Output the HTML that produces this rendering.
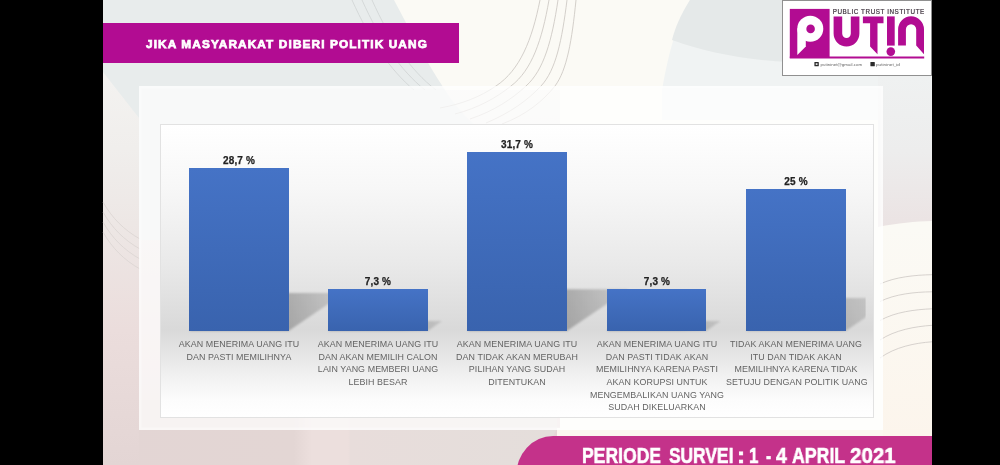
<!DOCTYPE html>
<html><head><meta charset="utf-8">
<style>
html,body{margin:0;padding:0;}
body{width:1000px;height:465px;position:relative;overflow:hidden;background:#000;font-family:"Liberation Sans",sans-serif;}
#bg{position:absolute;left:0;top:0;width:1000px;height:465px;}
.abs{position:absolute;}
#title{left:103px;top:23px;width:356px;height:40px;background:#b20c92;}
#title span{-webkit-text-stroke:0.75px #fff;position:absolute;left:43px;top:14px;font-weight:bold;font-size:11.8px;color:#fff;white-space:nowrap;letter-spacing:1.12px;line-height:14px;}
#outer{left:139px;top:85.6px;width:744px;height:344px;background:rgba(255,255,255,0.7);box-shadow:inset 0 0 0 2.5px rgba(255,255,255,0.35);}
#inner{left:160px;top:124px;width:714px;height:294px;box-sizing:border-box;border:1px solid #e2e2e2;background:linear-gradient(to bottom,#ffffff 0%,#f7f7f7 22%,#e9e9e9 48%,#d9d9d9 70%,#e3e3e3 77%,#f1f1f1 86%,#fcfcfc 94%,#ffffff 100%);}
.bar{position:absolute;width:99.5px;background:linear-gradient(to bottom,#4573c6,#3963ae);}
.val,.cat,#title span{will-change:transform;}
.val{-webkit-text-stroke:0.25px #222;position:absolute;font-weight:bold;font-size:10px;letter-spacing:0.15px;color:#222;white-space:nowrap;text-align:center;width:100px;line-height:12px;}
.cat{position:absolute;font-size:8.9px;letter-spacing:0.08px;color:#636363;text-align:center;width:140px;line-height:12.65px;white-space:nowrap;}
#footer{left:516px;top:436px;width:416px;height:40px;background:#c4328a;border-top-left-radius:37px 40px;}
#ftext{left:581.6px;top:443.5px;width:340px;height:24px;font-weight:bold;font-size:21.5px;color:#fff;line-height:24px;}
#ftext span{-webkit-text-stroke:0.6px #fff;position:absolute;top:0;white-space:nowrap;transform-origin:0 0;will-change:transform;}
#logo{left:782px;top:0px;width:150px;height:76px;box-sizing:border-box;border:1px solid #909090;background:#fff;}
</style></head><body>
<svg id="bg" viewBox="0 0 1000 465">
<defs>
<linearGradient id="lstrip" x1="0" y1="0" x2="0" y2="465" gradientUnits="userSpaceOnUse">
<stop offset="0.13" stop-color="#f4f3f1"/><stop offset="0.32" stop-color="#f0eeec"/><stop offset="0.48" stop-color="#ede7e5"/><stop offset="0.71" stop-color="#ebdddc"/><stop offset="1" stop-color="#e3d5d4"/>
</linearGradient>
<linearGradient id="rstrip" x1="0" y1="0" x2="0" y2="1">
<stop offset="0" stop-color="#eff1f1"/><stop offset="0.5" stop-color="#ededed"/><stop offset="1" stop-color="#ebe3e3"/>
</linearGradient>
<linearGradient id="bpink" x1="103" y1="0" x2="557" y2="0" gradientUnits="userSpaceOnUse"><stop offset="0" stop-color="#e3d5d4"/><stop offset="0.42" stop-color="#e3d6d4"/><stop offset="0.46" stop-color="#ecdfdd"/><stop offset="0.54" stop-color="#ecdfdd"/><stop offset="0.545" stop-color="#e8dddb"/><stop offset="1" stop-color="#e4dedb"/></linearGradient>
<linearGradient id="fade" x1="400" y1="0" x2="560" y2="0" gradientUnits="userSpaceOnUse"><stop offset="0" stop-color="#fbfaf5" stop-opacity="0"/><stop offset="1" stop-color="#fbfaf5" stop-opacity="1"/></linearGradient>
<linearGradient id="rlow" x1="0" y1="0" x2="0" y2="1"><stop offset="0" stop-color="#fbfaf5"/><stop offset="1" stop-color="#fcf5ec"/></linearGradient>
<filter id="bl" x="-5%" y="-5%" width="110%" height="110%"><feGaussianBlur stdDeviation="0.7"/></filter>
</defs>
<rect x="103" y="0" width="829" height="465" fill="#fbfaf5"/>
<!-- left blob -->
<rect x="103" y="60" width="37" height="405" fill="url(#lstrip)"/><rect x="139" y="90" width="421" height="375" fill="url(#lstrip)"/>
<path d="M103 0 H394 C410 30 425 60 445 90 C470 130 520 160 560 200 V240 H139 V118 L103 72 Z" fill="#e8ecec"/>
<rect x="400" y="200" width="160" height="182" fill="url(#fade)"/>
<!-- right blob light -->
<path d="M690 0 C676 25 668 55 662 90 V120 H932 V0 Z" fill="#f0f3f3"/>
<!-- right blob dark -->
<path d="M690 0 C680 16 675 28 672 40 C705 52 745 60 790 62 H932 V0 Z" fill="#e5e9e9"/>
<!-- right strip -->
<path d="M878 76 H932 V221 C915 221.5 898 223 878 227 Z" fill="url(#rstrip)"/>
<!-- bottom pink area -->
<path d="M139 400 H557 V429 C550 440 547 452 546 465 H139 Z" fill="url(#bpink)"/>
<path d="M557 428 H932 V437 H557 Z" fill="#fcf7ef"/><rect x="883" y="228" width="49" height="209" fill="url(#rlow)"/>
<!-- thin lines -->
<g fill="none" stroke="#c9c4bf" stroke-width="0.8" filter="url(#bl)">
<path d="M540 0 C532 40 520 70 496 86 C480 97 462 104 440 108"/>
<path d="M549 0 C542 40 532 70 511 86 C496 98 478 108 455 114"/>
<path d="M558 0 C552 40 544 70 526 86 C512 99 494 111 470 119"/>
<path d="M567 0 C562 40 556 70 541 86 C528 100 510 113 486 123"/>
<path d="M576 0 C572 40 567 70 555 86 C543 101 526 115 502 124"/>
</g>
<g fill="none" stroke="#cfd3d3" stroke-width="0.8" filter="url(#bl)">
<path d="M362 0 C380 40 400 70 425 90"/>
<path d="M372 0 C390 40 410 70 436 90"/>
<path d="M352 0 C370 40 390 70 414 90"/>
</g>
<g fill="none" stroke="#cdc8c4" stroke-width="0.8" filter="url(#bl)">
<path d="M880 284 C895 277 915 275 932 274.7"/>
<path d="M880 301.5 C895 294 915 292 932 291.8"/>
<path d="M880 320.5 C895 312 915 309.5 932 308.8"/>
<path d="M880 340 C895 330 915 326.5 932 325.3"/>
<path d="M880 358 C895 347 915 343 932 341.8"/>
</g>
<g fill="none" stroke="#dcd6d4" stroke-width="0.9" filter="url(#bl)">
<path d="M103 212 C112 228 124 240 140 249"/>
<path d="M103 222 C112 238 124 250 140 259"/>
<path d="M103 232 C112 248 124 260 140 269"/>
<path d="M103 202 C112 218 124 230 140 239"/>
</g>
</svg>
<div id="title" class="abs"><span>JIKA MASYARAKAT DIBERI POLITIK UANG</span></div>
<div id="outer" class="abs"></div>
<div id="inner" class="abs"></div>
<svg class="abs" style="left:0;top:0" width="1000" height="465" viewBox="0 0 1000 465">
<defs><clipPath id="plot"><rect x="161" y="125" width="704.6" height="215"/></clipPath>
<filter id="sb" x="-10%" y="-20%" width="120%" height="140%"><feGaussianBlur stdDeviation="1.3"/></filter>
<linearGradient id="sg" x1="0" y1="0" x2="1" y2="0"><stop offset="0.6" stop-color="#000" stop-opacity="0.25"/><stop offset="0.95" stop-color="#000" stop-opacity="0.12"/></linearGradient>
</defs>
<g clip-path="url(#plot)"><g filter="url(#sb)" fill="url(#sg)">
<path d="M189 331 H288.5 L344.5 293 H245 Z"/>
<path d="M328.2 331 H427.7 L442 321 H342.5 Z"/>
<path d="M467.3 331 H566.8 L628.6 289.3 H529 Z"/>
<path d="M606.7 331 H706.2 L720.5 321 H621 Z"/>
<path d="M746 331 H845.5 L894.4 298 H795 Z" fill-opacity="0.75"/>
</g></g></svg>
<div class="bar" style="left:189px;top:168px;height:163px"></div>
<div class="bar" style="left:328.2px;top:289.3px;height:41.7px"></div>
<div class="bar" style="left:467.3px;top:151.7px;height:179.3px"></div>
<div class="bar" style="left:606.7px;top:289.3px;height:41.7px"></div>
<div class="bar" style="left:746px;top:189.3px;height:141.7px"></div>
<div class="val" style="left:188.7px;top:155.4px">28,7 %</div>
<div class="val" style="left:328px;top:276.4px">7,3 %</div>
<div class="val" style="left:467px;top:138.9px">31,7 %</div>
<div class="val" style="left:606.5px;top:276.4px">7,3 %</div>
<div class="val" style="left:746px;top:176.4px">25 %</div>
<div class="cat" style="left:168.7px;top:338.2px">AKAN MENERIMA UANG ITU<br>DAN PASTI MEMILIHNYA</div>
<div class="cat" style="left:308px;top:338.2px">AKAN MENERIMA UANG ITU<br>DAN AKAN MEMILIH CALON<br>LAIN YANG MEMBERI UANG<br>LEBIH BESAR</div>
<div class="cat" style="left:447px;top:338.2px">AKAN MENERIMA UANG ITU<br>DAN TIDAK AKAN MERUBAH<br>PILIHAN YANG SUDAH<br>DITENTUKAN</div>
<div class="cat" style="left:586.5px;top:338.2px">AKAN MENERIMA UANG ITU<br>DAN PASTI TIDAK AKAN<br>MEMILIHNYA KARENA PASTI<br>AKAN KORUPSI UNTUK<br>MENGEMBALIKAN UANG YANG<br>SUDAH DIKELUARKAN</div>
<div class="cat" style="left:725.8px;top:338.2px">TIDAK AKAN MENERIMA UANG<br>ITU DAN TIDAK AKAN<br>MEMILIHNYA KARENA TIDAK<br>SETUJU DENGAN POLITIK UANG</div>
<div id="footer" class="abs"></div>
<div id="ftext" class="abs"><span style="left:0.68px;transform:scaleX(0.816)">PERIODE</span><span style="left:87.00px;transform:scaleX(0.808)">SURVEI</span><span style="left:155.65px;transform:scaleX(1.125)">:</span><span style="left:167.82px;transform:scaleX(0.782)">1</span><span style="left:184.00px;transform:scaleX(0.7)">-</span><span style="left:194.30px;transform:scaleX(0.9)">4</span><span style="left:210.50px;transform:scaleX(0.825)">APRIL</span><span style="left:268.60px;transform:scaleX(0.955)">2021</span></div>
<div id="logo" class="abs"><svg viewBox="782 0 149 75" width="149" height="75" style="position:absolute;left:-1px;top:-1px">
<g fill="#b20c92">
<rect x="789.8" y="8.9" width="39.8" height="49.1"/>
<rect x="789.8" y="56.5" width="134.4" height="2"/>
<!-- U -->
<path d="M833.6 16.4 H842.2 V33.6 A4.3 4.3 0 0 0 850.8 33.6 V16.4 H859.4 V33.6 A12.9 12.9 0 0 1 833.6 33.6 Z"/>
<!-- T -->
<path d="M862.9 16.4 H883.5 V23.2 H877.5 V54.2 L870.1 46.5 V23.2 H862.9 Z"/>
<!-- I -->
<rect x="887" y="16.4" width="7.7" height="29.2"/>
<circle cx="890.8" cy="51.6" r="4.3"/>
<!-- n -->
<path d="M898.1 45.6 V29.3 A12.95 12.95 0 0 1 924 29.3 V54.2 L916.2 45.6 V29.3 A5.15 5.15 0 0 0 905.9 29.3 V45.6 Z"/>
</g>
<!-- P white -->
<g fill="#fff">
<circle cx="810.3" cy="28.7" r="13"/>
<path d="M797.3 28 V55 L805.8 46.5 V38 Z"/>
</g>
<circle cx="810.6" cy="28.9" r="4.3" fill="#b20c92"/>
<text x="832.7" y="14.2" font-family="Liberation Sans, sans-serif" font-size="6.3" fill="#3f343f" stroke="#3f343f" stroke-width="0.2" textLength="91.6" lengthAdjust="spacing">PUBLIC TRUST INSTITUTE</text>
<rect x="814.4" y="61.9" width="4.4" height="4.4" rx="0.6" fill="#2b2b2b"/><rect x="815.7" y="63.2" width="1.8" height="1.8" fill="#ddd"/>
<rect x="870.4" y="61.9" width="4.4" height="4.4" rx="0.6" fill="#2b2b2b"/>
<text x="820.6" y="65.5" font-family="Liberation Sans, sans-serif" font-size="3.8" fill="#666" textLength="41.5" lengthAdjust="spacingAndGlyphs">putininet@gmail.com</text>
<text x="876" y="65.6" font-family="Liberation Sans, sans-serif" font-size="3.8" fill="#666" textLength="24" lengthAdjust="spacingAndGlyphs">putininet_id</text>
</svg></div>
</body></html>
